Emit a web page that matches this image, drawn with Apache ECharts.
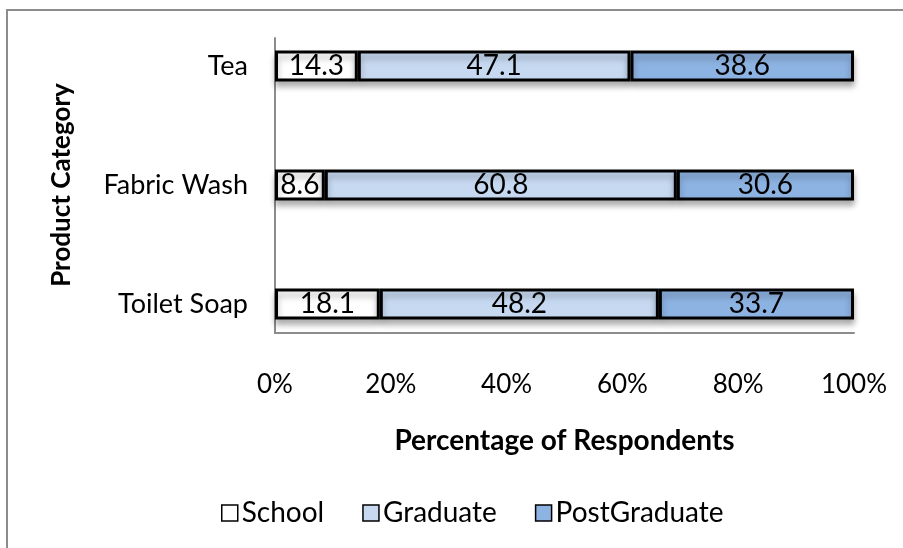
<!DOCTYPE html>
<html>
<head>
<meta charset="utf-8">
<script src="https://cdn.jsdelivr.net/npm/echarts@6/dist/echarts.min.js"></script>
<style>
  html, body { margin: 0; padding: 0; background: #fff; }
  #chart { width: 903px; height: 548px; }
</style>
</head>
<body>
<div id="chart"></div>
<script>
// Education profile of respondents by product category (row percentages)
const categories = ['Tea', 'Fabric Wash', 'Toilet Soap'];
const school = [14.3, 8.6, 18.1];
const graduate = [47.1, 60.8, 48.2];
const postGraduate = [38.6, 30.6, 33.7];
const xTicks = [0, 20, 40, 60, 80, 100];

const FONT = 'Lato';
const chart = echarts.init(document.getElementById('chart'), null, { renderer: 'canvas' });

function barSeries(name, values, color) {
  return {
    name: name,
    type: 'bar',
    stack: 'total',
    xAxisIndex: 0,
    yAxisIndex: 0,
    barWidth: 31,
    data: values,
    itemStyle: {
      color: color,
      borderColor: '#000',
      borderWidth: 3,
      shadowColor: 'rgba(0,0,0,0.3)',
      shadowBlur: 6,
      shadowOffsetY: 5
    },
    label: {
      show: true,
      position: 'inside',
      color: '#000',
      fontFamily: FONT,
      fontSize: 28,
      formatter: p => p.value.toFixed(1)
    },
    emphasis: { disabled: true }
  };
}

chart.setOption({
  animation: false,
  backgroundColor: '#fff',
  graphic: [{
    type: 'polyline',
    shape: { points: [[7, 560], [7, 10], [920, 10]] },
    style: { stroke: '#8c8c8c', lineWidth: 2, fill: null },
    silent: true
  }],
  grid: [
    // bar grid: category bands
    { left: 275, right: 49, top: 6.5, height: 357 },
    // frame grid carrying the axis lines
    { left: 275, right: 49, top: 38, height: 295 }
  ],
  xAxis: [
    {
      gridIndex: 0,
      type: 'value',
      min: 0,
      max: 100,
      interval: 20,
      axisLine: { show: false },
      axisTick: { show: false },
      splitLine: { show: false },
      axisLabel: {
        margin: 8,
        color: '#000',
        fontFamily: FONT,
        fontSize: 26,
        formatter: v => xTicks.includes(v) ? v + '%' : ''
      },
      name: 'Percentage of Respondents',
      nameLocation: 'middle',
      nameGap: 63,
      nameTextStyle: { color: '#000', fontFamily: FONT, fontSize: 28, fontWeight: 'bold' }
    },
    {
      gridIndex: 1,
      type: 'value',
      min: 0,
      max: 1,
      axisLine: { show: true, onZero: false, lineStyle: { color: '#8c8c8c', width: 2 } },
      axisTick: { show: false },
      axisLabel: { show: false },
      splitLine: { show: false }
    }
  ],
  yAxis: [
    {
      gridIndex: 0,
      type: 'category',
      inverse: true,
      data: categories,
      axisLine: { show: false },
      axisTick: { show: false },
      axisLabel: {
        margin: 27,
        color: '#000',
        fontFamily: FONT,
        fontSize: 27
      },
      name: 'Product Category',
      nameLocation: 'middle',
      nameRotate: 90,
      nameGap: 200,
      nameTextStyle: { color: '#000', fontFamily: FONT, fontSize: 26, fontWeight: 'bold' }
    },
    {
      gridIndex: 1,
      type: 'value',
      min: 0,
      max: 1,
      axisLine: { show: true, onZero: false, lineStyle: { color: '#8c8c8c', width: 2 } },
      axisTick: { show: false },
      axisLabel: { show: false },
      splitLine: { show: false }
    }
  ],
  legend: {
    left: 216,
    top: 494,
    itemWidth: 16,
    itemHeight: 16,
    itemGap: 38,
    icon: 'rect',
    textStyle: { color: '#000', fontFamily: FONT, fontSize: 28, padding: [0, 0, 0, -1] },
    itemStyle: { borderColor: '#000', borderWidth: 1.5, shadowBlur: 0, shadowOffsetY: 0 },
    data: ['School', 'Graduate', 'PostGraduate']
  },
  series: [
    barSeries('School', school, '#ffffff'),
    barSeries('Graduate', graduate, '#c6d9f1'),
    barSeries('PostGraduate', postGraduate, '#8db3e2')
  ]
});
</script>
</body>
</html>
